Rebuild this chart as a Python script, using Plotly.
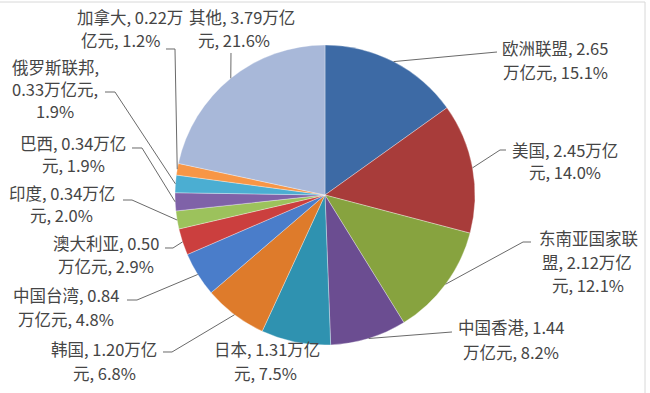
import math
import plotly.graph_objects as go

W, H = 650, 393

# ---- data ----
names = ["欧洲联盟", "美国", "东南亚国家联盟", "中国香港", "日本", "韩国", "中国台湾",
         "澳大利亚", "印度", "巴西", "俄罗斯联邦", "加拿大", "其他"]
values = [2.65, 2.45, 2.12, 1.44, 1.31, 1.20, 0.84, 0.50, 0.34, 0.34, 0.33, 0.22, 3.79]
percents = [15.1, 14.0, 12.1, 8.2, 7.5, 6.8, 4.8, 2.9, 2.0, 1.9, 1.9, 1.2, 21.6]
unit = "万亿元"

# ---- style / layout ----
colors = ["#3D6AA5", "#A83C3A", "#87A33F", "#6B4D91", "#2F92B0", "#DE7B2B", "#4A7DCA",
          "#CB3F3E", "#9CC25C", "#7F62A8", "#4BAED2", "#F79646", "#A8B8D9"]
breaks = [[10], [10], [6, 15], [10], [10], [10], [10], [10], [10], [10], [6, 15], [10], [10]]
# per-line label centres (px)
label_pos = [
    [(555, 48), (555, 72)],
    [(565, 150), (565, 172)],
    [(588, 238), (587, 262), (588, 285)],
    [(511, 327), (511, 352)],
    [(267, 349), (265, 373)],
    [(104, 349), (104, 373)],
    [(66, 295), (66, 319)],
    [(106, 243), (106, 266)],
    [(62, 193), (61, 215)],
    [(73, 143), (73, 165)],
    [(55, 67), (55, 89), (55, 111)],
    [(130, 17), (121, 40)],
    [(242, 17), (234, 40)],
]
leader_via = [
    [(497, 52)],
    [(500, 150), (506, 150)],
    [(523, 242), (531, 242)],
    [(452, 332)],
    None,
    [(172, 352), (163, 352)],
    [(137, 300), (127, 300)],
    [(173, 248), (165, 248)],
    [(132, 200), (123, 200)],
    [(142, 148), (132, 148)],
    [(115, 92), (105, 92)],
    [(175, 49), (166, 49)],
    [(231, 53)],
]

CX, CY, R = 325, 195, 150


def px(x):
    return x / W


def py(y):
    return 1 - y / H


fig = go.Figure()
fig.add_trace(go.Pie(
    labels=names, values=values, sort=False, direction="clockwise", rotation=0,
    marker=dict(colors=colors, line=dict(color="rgba(255,255,255,0.55)", width=0.6)),
    textinfo="none", hoverinfo="label+value+percent", showlegend=False,
    domain=dict(x=[px(CX - R), px(CX + R)], y=[py(CY + R), py(CY - R)]),
))

annotations = []
shapes = []
total = sum(values)
cum = 0.0
for i, (n, v, p) in enumerate(zip(names, values, percents)):
    full = f"{n}, {v:.2f}{unit}, {p:.1f}%"
    cuts = [0] + breaks[i] + [len(full)]
    lines = [full[cuts[k]:cuts[k + 1]].strip() for k in range(len(cuts) - 1)]
    for line, (lx, ly) in zip(lines, label_pos[i]):
        annotations.append(dict(
            x=px(lx), y=py(ly), xref="paper", yref="paper", text=line, showarrow=False,
            xanchor="center", yanchor="middle",
            font=dict(family="Noto Sans CJK SC", size=16.5, color="#454545"),
        ))
    mid = (cum + v / 2) / total * 2 * math.pi
    cum += v
    if leader_via[i]:
        sx = CX + R * math.sin(mid)
        sy = CY - R * math.cos(mid)
        pts = [(sx, sy)] + leader_via[i]
        path = "M " + " L ".join(f"{px(a):.5f},{py(b):.5f}" for a, b in pts)
        shapes.append(dict(type="path", path=path, xref="paper", yref="paper",
                           line=dict(color="#6a6a6a", width=1)))

# faint frame of the original picture
shapes.append(dict(type="line", xref="paper", yref="paper", x0=0, x1=px(645), y0=py(2), y1=py(2),
                   line=dict(color="#d8d8d8", width=1)))
shapes.append(dict(type="line", xref="paper", yref="paper", x0=px(645), x1=px(645), y0=py(2), y1=0,
                   line=dict(color="#d8d8d8", width=1)))

fig.update_layout(
    width=W, height=H, margin=dict(l=0, r=0, t=0, b=0),
    paper_bgcolor="white", plot_bgcolor="white",
    annotations=annotations, shapes=shapes,
)
fig.write_html("out.html", config={"displayModeBar": False},
               post_script="document.body.style.margin='0';document.body.style.overflow='hidden';")
